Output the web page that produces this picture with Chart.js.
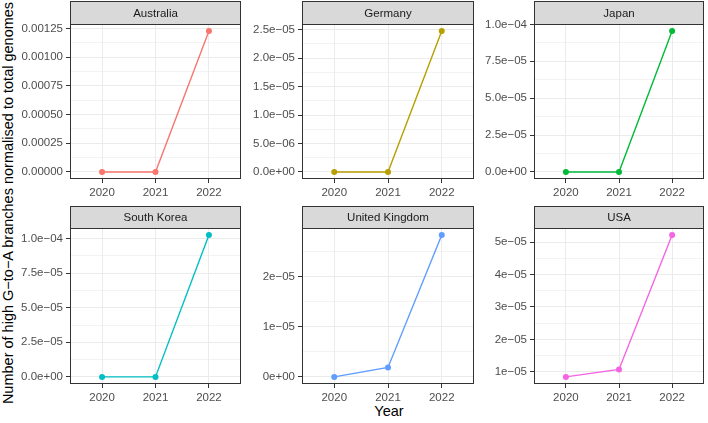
<!DOCTYPE html>
<html>
<head>
<meta charset="utf-8">
<script src="https://cdn.jsdelivr.net/npm/chart.js@4.4.1/dist/chart.umd.min.js"></script>
<style>
  body { margin: 0; background: #fff; }
  #wrap { position: relative; width: 708px; height: 423px; overflow: hidden;
          font-family: "Liberation Sans", Arial, sans-serif; }
  canvas { position: absolute; }
  #ytitle { position: absolute; left: 8px; top: 203px; font-size: 14.5px; line-height: 1;
            white-space: nowrap; color: #000; transform: translate(-50%, -50%) rotate(-90deg); }
  #xtitle { position: absolute; left: 389px; top: 411px; font-size: 14.5px; line-height: 1;
            white-space: nowrap; color: #000; transform: translate(-50%, -50%); }
</style>
</head>
<body>
<div id="wrap">
  <div id="ytitle">Number of high G−to−A branches normalised to total genomes</div>
  <div id="xtitle">Year</div>
</div>
<script>
// data
var years = [2020, 2021, 2022];
var yearLabels = ["2020", "2021", "2022"];
var countries = ["Australia", "Germany", "Japan", "South Korea", "United Kingdom", "USA"];
var colors = ["#F8766D", "#B79F00", "#00BA38", "#00BFC4", "#619CFF", "#F564E3"];

var australia = [0, 0, 0.001227];
var germany = [0, 0, 2.477e-5];
var japan = [0, 0, 9.55e-5];
var southKorea = [0, 0, 1.025e-4];
var unitedKingdom = [0, 1.88e-6, 2.83e-5];
var usa = [8.45e-6, 1.074e-5, 5.216e-5];

var australiaTicks = [0, 0.00025, 0.0005, 0.00075, 0.001, 0.00125];
var australiaLabels = ["0.00000", "0.00025", "0.00050", "0.00075", "0.00100", "0.00125"];
var germanyTicks = [0, 5e-6, 1e-5, 1.5e-5, 2e-5, 2.5e-5];
var germanyLabels = ["0.0e+00", "5.0e−06", "1.0e−05", "1.5e−05", "2.0e−05", "2.5e−05"];
var japanTicks = [0, 2.5e-5, 5e-5, 7.5e-5, 1e-4];
var japanLabels = ["0.0e+00", "2.5e−05", "5.0e−05", "7.5e−05", "1.0e−04"];
var southKoreaTicks = [0, 2.5e-5, 5e-5, 7.5e-5, 1e-4];
var southKoreaLabels = ["0.0e+00", "2.5e−05", "5.0e−05", "7.5e−05", "1.0e−04"];
var unitedKingdomTicks = [0, 1e-5, 2e-5];
var unitedKingdomLabels = ["0e+00", "1e−05", "2e−05"];
var usaTicks = [1e-5, 2e-5, 3e-5, 4e-5, 5e-5];
var usaLabels = ["1e−05", "2e−05", "3e−05", "4e−05", "5e−05"];

var series = [australia, germany, japan, southKorea, unitedKingdom, usa];
var tickSets = [australiaTicks, germanyTicks, japanTicks, southKoreaTicks, unitedKingdomTicks, usaTicks];
var labelSets = [australiaLabels, germanyLabels, japanLabels, southKoreaLabels, unitedKingdomLabels, usaLabels];

// panel layout (plot area in page pixels)
var cols = [[70, 243], [302, 476], [534, 706]];
var rows = [{ strip: 1, top: 24, bottom: 179 }, { strip: 206, top: 228, bottom: 384 }];
var AXIS_W = 60, AXIS_H = 24;
var FONT = { family: "'Liberation Sans', Arial, sans-serif", size: 11.5 };

var panelPlugin = {
  id: 'panel',
  afterDraw: function (chart, args, opts) {
    var ctx = chart.ctx, a = chart.chartArea;
    var l = Math.round(a.left) + 0.5, r = Math.round(a.right) - 0.5;
    var t = Math.round(a.top) + 0.5, b = Math.round(a.bottom) - 0.5;
    var st = opts.stripTop + 0.5;
    ctx.save();
    ctx.fillStyle = '#D9D9D9';
    ctx.fillRect(l, st, r - l, t - st);
    ctx.strokeStyle = '#333333';
    ctx.lineWidth = 1;
    ctx.strokeRect(l, st, r - l, t - st);
    ctx.strokeRect(l, t, r - l, b - t);
    ctx.fillStyle = '#1A1A1A';
    ctx.font = "11.5px 'Liberation Sans', Arial, sans-serif";
    ctx.textAlign = 'center';
    ctx.textBaseline = 'middle';
    ctx.fillText(opts.title, (l + r) / 2, (st + t) / 2 + 0.5);
    ctx.restore();
  }
};

function near(list, v) {
  for (var i = 0; i < list.length; i++) {
    if (Math.abs(list[i] - v) < 1e-12) return i;
  }
  return -1;
}

var wrap = document.getElementById('wrap');

countries.forEach(function (name, i) {
  var col = cols[i % 3], row = rows[Math.floor(i / 3)];
  var vals = series[i], majors = tickSets[i], labels = labelSets[i];

  var lo = Math.min.apply(null, vals), hi = Math.max.apply(null, vals);
  var span = hi - lo;
  lo -= span * 0.05; hi += span * 0.05;

  var step = majors[1] - majors[0];
  var allTicks = majors.slice();
  for (var k = -1; k < majors.length; k++) {
    var m = majors[0] + step * (k + 0.5);
    if (m >= lo && m <= hi) allTicks.push(m);
  }
  allTicks.sort(function (a, b) { return a - b; });

  var left = col[0] - AXIS_W, top = row.strip - 1;
  var width = col[1] - left + 2, height = row.bottom - top + AXIS_H;

  var cv = document.createElement('canvas');
  cv.width = width; cv.height = height;
  cv.style.left = left + 'px'; cv.style.top = top + 'px';
  cv.style.width = width + 'px'; cv.style.height = height + 'px';
  wrap.appendChild(cv);

  new Chart(cv, {
    type: 'line',
    data: {
      datasets: [{
        data: years.map(function (y, j) { return { x: y, y: vals[j] }; }),
        borderColor: colors[i],
        backgroundColor: colors[i],
        borderWidth: 1.4,
        pointRadius: 3,
        pointBorderWidth: 0,
        tension: 0,
        clip: false
      }]
    },
    options: {
      responsive: false,
      animation: false,
      devicePixelRatio: 1,
      layout: { padding: { top: row.top - top, right: 2, left: 0, bottom: 0 } },
      plugins: {
        legend: { display: false },
        tooltip: { enabled: false },
        panel: { title: name, stripTop: row.strip - top }
      },
      scales: {
        x: {
          type: 'linear',
          min: 2019.4, max: 2022.6,
          afterBuildTicks: function (s) { s.ticks = years.map(function (v) { return { value: v }; }); },
          afterFit: function (s) { s.height = AXIS_H; },
          ticks: {
            autoSkip: false, maxRotation: 0, padding: 3, color: '#4D4D4D', font: FONT,
            callback: function (v) { return yearLabels[years.indexOf(v)]; }
          },
          grid: { color: '#EBEBEB', lineWidth: 1, tickColor: '#333333', tickLength: 4 },
          border: { display: false }
        },
        y: {
          type: 'linear',
          min: lo, max: hi,
          afterBuildTicks: function (s) { s.ticks = allTicks.map(function (v) { return { value: v }; }); },
          afterFit: function (s) { s.width = AXIS_W; },
          ticks: {
            autoSkip: false, padding: 3, color: '#4D4D4D', font: FONT,
            callback: function (v) { var n = near(majors, v); return n >= 0 ? labels[n] : ''; }
          },
          grid: {
            color: '#EBEBEB',
            lineWidth: function (c) { return c.tick && near(majors, c.tick.value) >= 0 ? 1 : 0.6; },
            tickColor: function (c) { return c.tick && near(majors, c.tick.value) >= 0 ? '#333333' : 'rgba(0,0,0,0)'; },
            tickLength: 4
          },
          border: { display: false }
        }
      }
    },
    plugins: [panelPlugin]
  });
});
</script>
</body>
</html>
